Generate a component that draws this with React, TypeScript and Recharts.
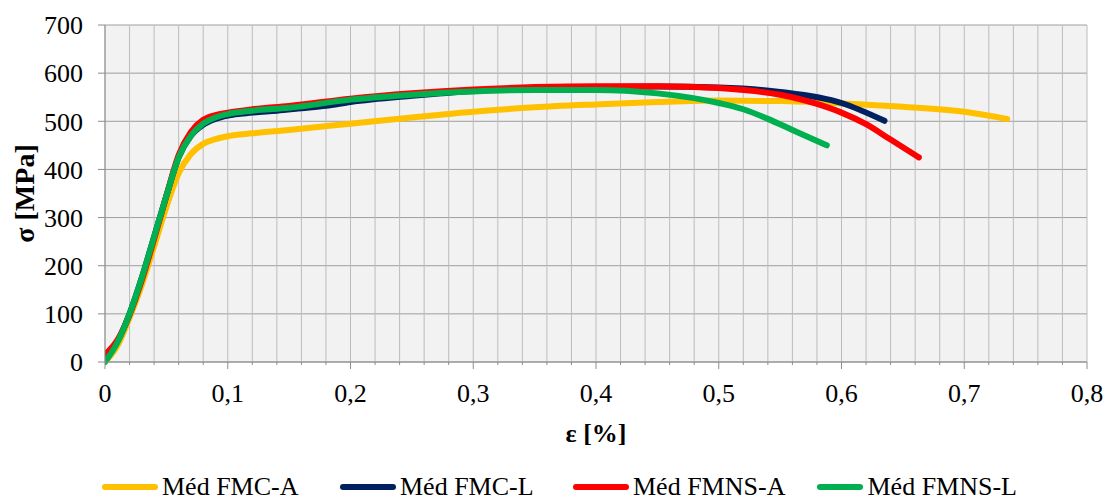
import { LineChart, Line, XAxis, YAxis, CartesianGrid, Label } from 'recharts';

// strain [%] / stress [MPa] pairs
const fmcA: [number, number][] = [
  [0, 0], [0.01, 33], [0.02, 92], [0.03, 160], [0.04, 240], [0.05, 322], [0.06, 392],
  [0.07, 432], [0.08, 453], [0.09, 463], [0.1, 469], [0.12, 475], [0.15, 482],
  [0.2, 495], [0.25, 508], [0.3, 520], [0.35, 529], [0.4, 535], [0.45, 540],
  [0.5, 543], [0.55, 542], [0.6, 537], [0.65, 530], [0.7, 520], [0.735, 505],
];
const fmcL: [number, number][] = [
  [0, 5], [0.01, 42], [0.02, 100], [0.03, 175], [0.04, 260], [0.05, 345], [0.06, 425],
  [0.07, 470], [0.08, 493], [0.09, 505], [0.1, 512], [0.12, 518], [0.14, 522],
  [0.16, 527], [0.18, 532], [0.2, 540], [0.25, 553], [0.3, 563], [0.35, 568],
  [0.4, 571], [0.45, 572], [0.5, 570], [0.55, 561], [0.6, 538], [0.635, 501],
];
const fmnsA: [number, number][] = [
  [0, 15], [0.01, 45], [0.02, 98], [0.03, 170], [0.04, 255], [0.05, 345], [0.06, 430],
  [0.07, 478], [0.08, 503], [0.09, 513], [0.1, 518], [0.12, 525], [0.15, 532],
  [0.2, 547], [0.25, 558], [0.3, 566], [0.35, 571], [0.4, 573], [0.45, 573],
  [0.5, 569], [0.55, 555], [0.58, 536], [0.6, 518], [0.62, 494], [0.64, 462], [0.663, 425],
];
const fmnsL: [number, number][] = [
  [0, 0], [0.01, 40], [0.02, 100], [0.03, 175], [0.04, 260], [0.05, 345], [0.06, 425],
  [0.07, 470], [0.08, 495], [0.09, 508], [0.1, 515], [0.12, 522], [0.15, 528],
  [0.2, 545], [0.25, 555], [0.3, 562], [0.35, 565], [0.4, 565], [0.45, 558],
  [0.5, 538], [0.52, 525], [0.54, 505], [0.56, 482], [0.588, 450],
];

const xTicks = [
  0, 0.02, 0.04, 0.06, 0.08, 0.1, 0.12, 0.14, 0.16, 0.18, 0.2, 0.22, 0.24, 0.26, 0.28,
  0.3, 0.32, 0.34, 0.36, 0.38, 0.4, 0.42, 0.44, 0.46, 0.48, 0.5, 0.52, 0.54, 0.56, 0.58,
  0.6, 0.62, 0.64, 0.66, 0.68, 0.7, 0.72, 0.74, 0.76, 0.78, 0.8,
];
const yTicks = [0, 100, 200, 300, 400, 500, 600, 700];

const SERIES = [
  { name: 'Méd FMC-A', data: fmcA, color: '#FFC000', w: 238 },
  { name: 'Méd FMC-L', data: fmcL, color: '#002060', w: 233 },
  { name: 'Méd FMNS-A', data: fmnsA, color: '#FF0000', w: 244 },
  { name: 'Méd FMNS-L', data: fmnsL, color: '#00B050', w: 200 },
];

const FONT = 'Liberation Serif';

function XTick(props: any) {
  const { x, y, payload } = props;
  const v = Math.round(payload.value * 100);
  const major = v % 10 === 0;
  return (
    <g>
      <line x1={x} x2={x} y1={y} y2={y + (major ? 7 : 3)} stroke="#8c8c8c" />
      {major && (
        <text x={x} y={y + 40} textAnchor="middle" fontSize={26} style={{ fontFamily: FONT }} fill="#000">
          {String(v / 100).replace('.', ',')}
        </text>
      )}
    </g>
  );
}

export default function App() {
  return (
    <div style={{ position: 'absolute', left: 0, top: 0, width: 1106, height: 499, background: '#fff', fontFamily: FONT }}>
      <LineChart width={1106} height={499} margin={{ top: 25, right: 19, bottom: 0, left: 0 }}
        style={{ fontFamily: FONT }}>
        <CartesianGrid vertical={false} stroke="#9e9e9e" fill="#f2f2f2" />
        <CartesianGrid horizontal={false} stroke="#bcbcbc" />
        <XAxis type="number" dataKey="x" domain={[0, 0.8]} ticks={xTicks} interval={0}
          height={137} tickSize={0} tickMargin={0} tick={<XTick />} axisLine={{ stroke: '#8c8c8c' }}
          allowDataOverflow>
          <Label value="ε [%]" position="insideTop" offset={62} fontSize={26} fontWeight="bold"
            style={{ fontFamily: FONT }} fill="#000" />
        </XAxis>
        <YAxis type="number" dataKey="y" domain={[0, 700]} ticks={yTicks} width={105}
          tickSize={7} tickMargin={15} axisLine={{ stroke: '#8c8c8c' }} tickLine={{ stroke: '#8c8c8c' }}
          tick={{ fontSize: 26, style: { fontFamily: FONT }, fill: '#000' }}>
          <Label value="σ [MPa]" angle={-90} position="center" dx={-28} fontSize={28}
            fontWeight="bold" style={{ fontFamily: FONT }} fill="#000" />
        </YAxis>
        {SERIES.map(s => (
          <Line key={s.name} name={s.name} type="monotone"
            data={s.data.map(([x, y]) => ({ x, y }))} dataKey="y"
            stroke={s.color} strokeWidth={6} strokeLinecap="round" dot={false}
            isAnimationActive={false} />
        ))}
      </LineChart>
      <div style={{ position: 'absolute', left: 102, top: 472, display: 'flex', alignItems: 'center', fontFamily: FONT }}>
        {SERIES.map(s => (
          <div key={s.name} style={{ display: 'flex', alignItems: 'center', gap: 4, width: s.w }}>
            <span style={{ display: 'inline-block', width: 56, height: 6, borderRadius: 3, background: s.color }} />
            <span style={{ fontSize: 26, color: '#000', lineHeight: '30px', whiteSpace: 'nowrap' }}>{s.name}</span>
          </div>
        ))}
      </div>
    </div>
  );
}
